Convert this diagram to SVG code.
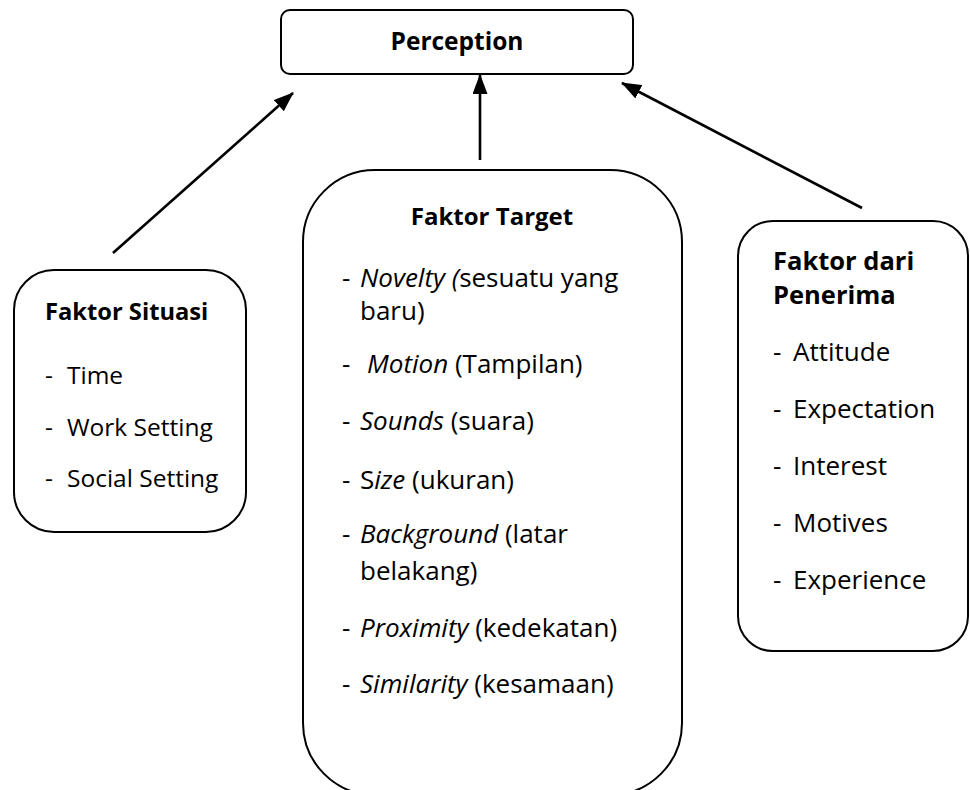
<svg xmlns="http://www.w3.org/2000/svg" width="970" height="790" viewBox="0 0 970 790">
<style>
.box{fill:#fff;stroke:#000;stroke-width:2}
text{font-family:"Open Sans","Liberation Sans",sans-serif;font-size:24.5px;fill:#000}
.b{font-weight:bold}
.i{font-style:italic}
.t text{font-size:26px}
.p text{font-size:26px}
.conn line{stroke:#000;stroke-width:2.6}
</style>
<defs>
<marker id="ah" markerWidth="20" markerHeight="15" refX="19" refY="7.5" orient="auto" markerUnits="userSpaceOnUse">
<path d="M0,0 L20,7.5 L0,15 z" fill="#000"/>
</marker>
</defs>
<rect width="970" height="790" fill="#fff"/>
<g id="connectors" class="conn">
<line x1="113" y1="253" x2="293" y2="93" marker-end="url(#ah)"/>
<line x1="480" y1="160" x2="480" y2="75" marker-end="url(#ah)"/>
<line x1="862" y1="208" x2="622" y2="83" marker-end="url(#ah)"/>
</g>
<g id="perception">
<rect class="box" x="281" y="10" width="352" height="64" rx="9"/>
<text class="b" x="457" y="50" text-anchor="middle">Perception</text>
</g>
<g id="faktor-situasi">
<rect class="box" x="14" y="270" width="232" height="262" rx="40"/>
<text class="b" x="45" y="320" style="font-size:23.7px">Faktor Situasi</text>
<text x="45" y="384">-</text><text x="67" y="384">Time</text>
<text x="45" y="436">-</text><text x="67" y="436">Work Setting</text>
<text x="45" y="487">-</text><text x="67" y="487">Social Setting</text>
</g>
<g id="faktor-target">
<rect class="box" x="303" y="170" width="379" height="625" rx="72"/>
<text class="b" x="492" y="225" text-anchor="middle" style="font-size:24px">Faktor Target</text>
<g class="t">
<text x="342" y="287">-</text><text x="360" y="287"><tspan class="i">Novelty (</tspan>sesuatu yang</text>
<text x="360" y="320">baru)</text>
<text x="342" y="373">-</text><text x="367" y="373"><tspan class="i">Motion</tspan> (Tampilan)</text>
<text x="342" y="430">-</text><text x="360" y="430"><tspan class="i">Sounds</tspan> (suara)</text>
<text x="342" y="489">-</text><text x="360" y="489">S<tspan class="i">ize</tspan> (ukuran)</text>
<text x="342" y="543">-</text><text x="360" y="543"><tspan class="i">Background</tspan> (latar</text>
<text x="360" y="580">belakang)</text>
<text x="342" y="637">-</text><text x="360" y="637"><tspan class="i">Proximity</tspan> (kedekatan)</text>
<text x="342" y="693">-</text><text x="360" y="693"><tspan class="i">Similarity</tspan> (kesamaan)</text>
</g>
</g>
<g id="faktor-penerima">
<rect class="box" x="738" y="221" width="230" height="430" rx="35"/>
<text class="b" x="773" y="270" style="font-size:25.5px">Faktor dari</text>
<text class="b" x="773" y="304" style="font-size:25.5px">Penerima</text>
<g class="p">
<text x="773" y="361">-</text><text x="793" y="361">Attitude</text>
<text x="773" y="418">-</text><text x="793" y="418">Expectation</text>
<text x="773" y="475">-</text><text x="793" y="475">Interest</text>
<text x="773" y="532">-</text><text x="793" y="532">Motives</text>
<text x="773" y="589">-</text><text x="793" y="589">Experience</text>
</g>
</g>
</svg>
